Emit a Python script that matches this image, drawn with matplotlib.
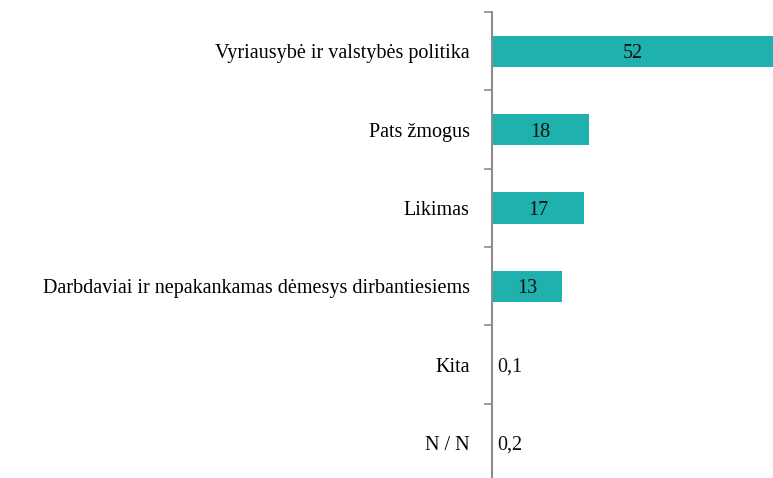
import matplotlib.pyplot as plt
import numpy as np

# colors
bar_teal  = '#1EB1AD'
axis_grey = '#8C8C8C'

categories = ['Vyriausybė ir valstybės politika', 'Pats žmogus', 'Likimas',
              'Darbdaviai ir nepakankamas dėmesys dirbantiesiems', 'Kita', 'N / N']
values = [52, 18, 17, 13, 0.1, 0.2]
value_labels = ['52', '18', '17', '13', '0,1', '0,2']

plt.rcParams['font.family'] = ['Liberation Serif', 'DejaVu Serif']

W, H = 773, 478
fig = plt.figure(figsize=(W / 100, H / 100), dpi=100)
# axis line at x=492, top tick at y=12, six rows of ~78 px
ax = fig.add_axes([492 / W, (H - 482) / H, 1 - 492 / W, 470 / H])

y = np.arange(len(categories))
ax.barh(y, values, height=0.4, color=bar_teal)

for yi, v, lab in zip(y, values, value_labels):
    if v >= 1:
        ax.text(v / 2, yi, lab, ha='center', va='center_baseline', fontsize=14.5, color='#111111')
    else:
        ax.text(0.95, yi, lab, ha='left', va='center_baseline', fontsize=14.5, color='#111111')

ax.set_xlim(0, 52)
ax.set_ylim(len(categories) - 0.5, -0.5)

ax.set_yticks(y)
ax.set_yticklabels(categories, fontsize=14.5)
ax.tick_params(axis='y', which='major', length=0, pad=16)
ax.set_yticks(np.arange(-0.5, len(categories), 1.0), minor=True)
ax.tick_params(axis='y', which='minor', length=6, width=1.2, color=axis_grey, direction='out')
ax.set_xticks([])

for s in ['top', 'right', 'bottom']:
    ax.spines[s].set_visible(False)
ax.spines['left'].set_color(axis_grey)
ax.spines['left'].set_linewidth(1.5)

plt.savefig('out.png', dpi=100)
